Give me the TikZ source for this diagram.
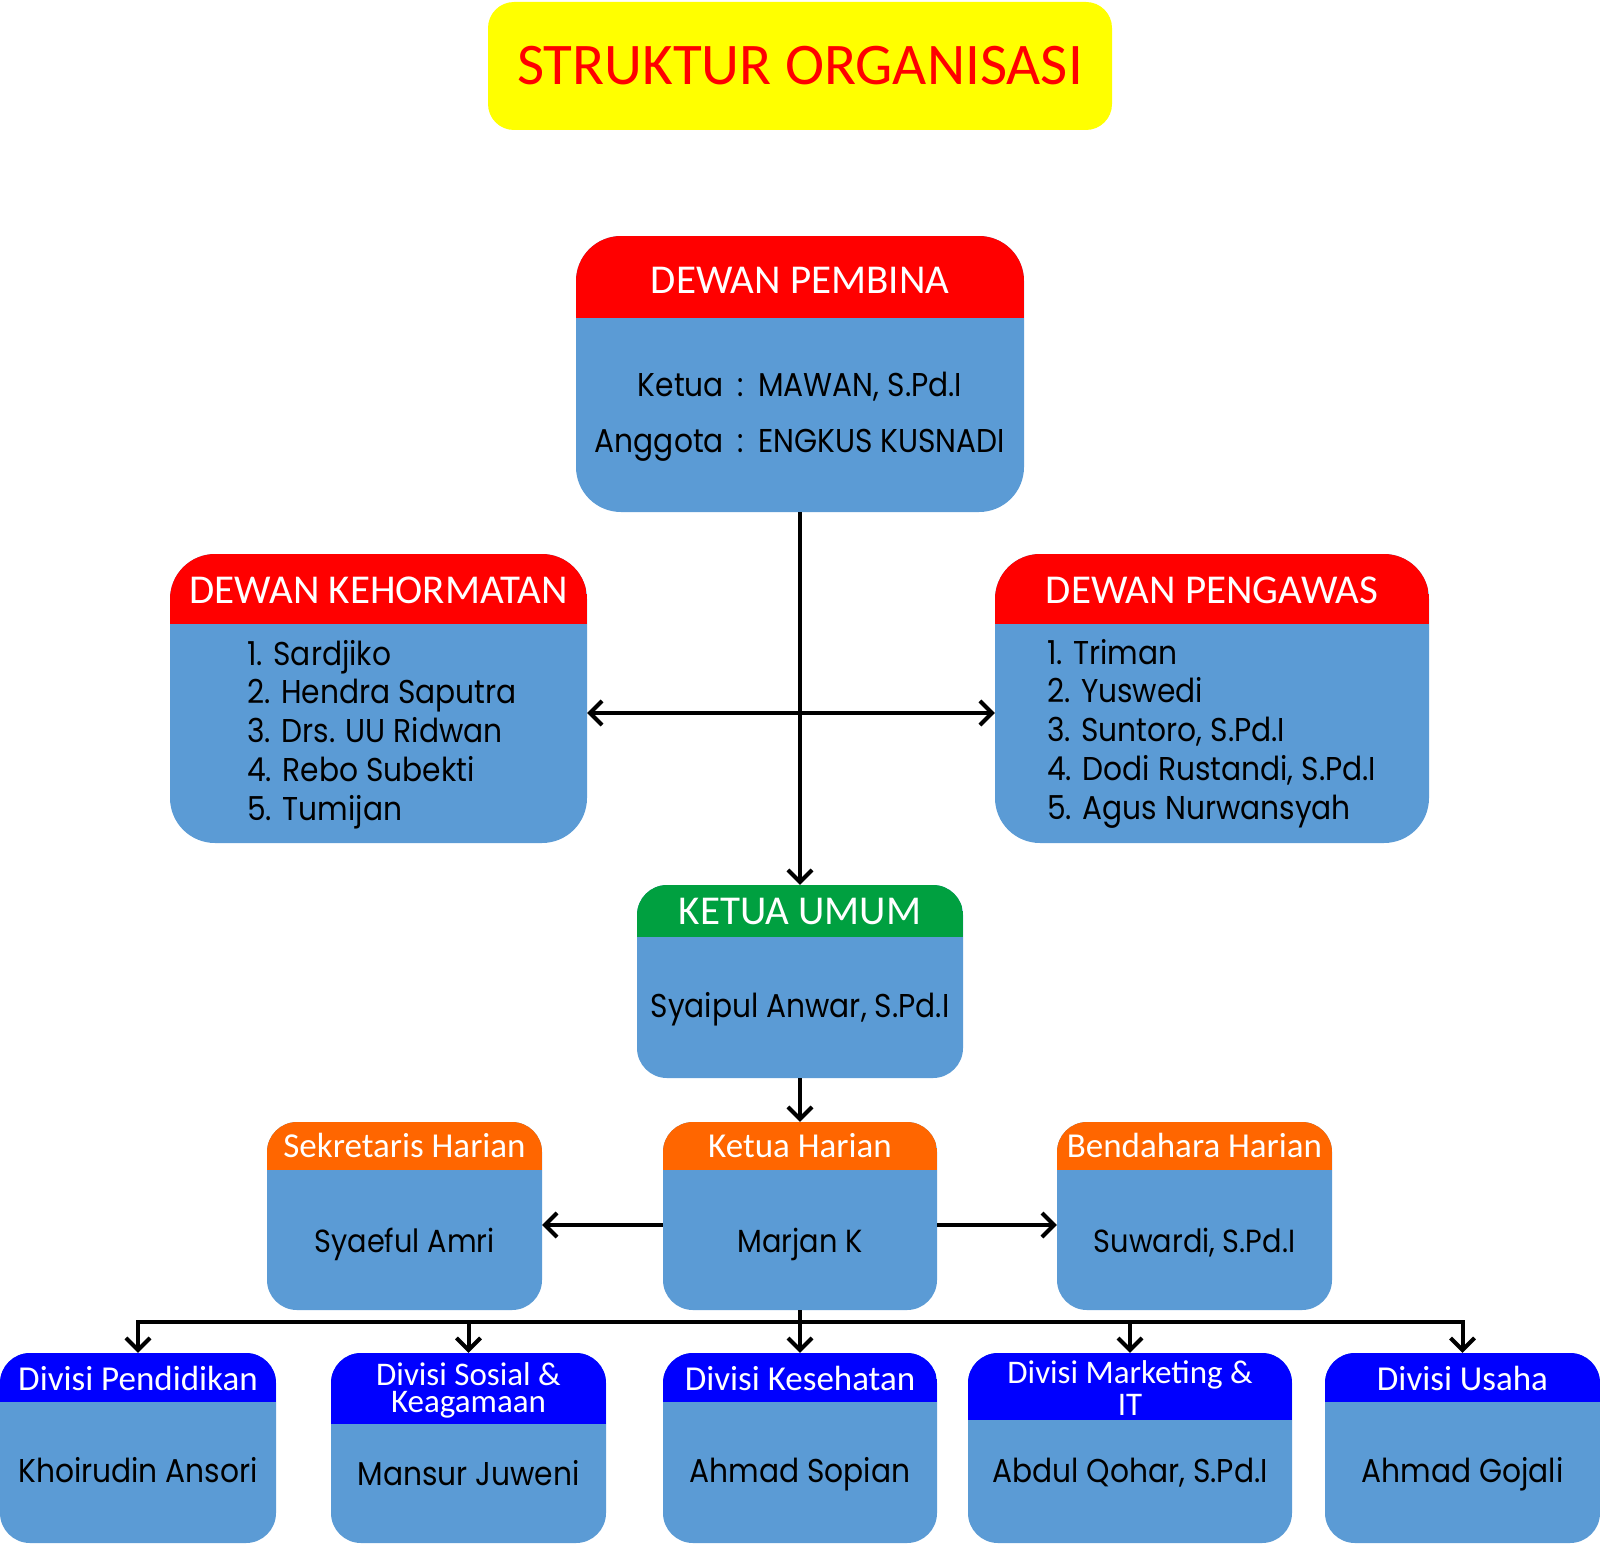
\documentclass[tikz,border=0pt]{standalone}
\usepackage{fontspec}
\setmainfont{Carlito}
\newfontfamily\namefont[FakeStretch=0.9]{Poppins}
\usepackage{xcolor}
\usetikzlibrary{arrows.meta, positioning}

\definecolor{kuning}{HTML}{FFFF00}
\definecolor{merah}{HTML}{FF0000}
\definecolor{isibiru}{HTML}{5B9BD5}
\definecolor{hijau}{HTML}{00A040}
\definecolor{oranye}{HTML}{FF6600}
\definecolor{biru}{HTML}{0000FF}

\begin{document}
\begin{tikzpicture}[
                        x=1pt, y=-1pt,
                        >={Straight Barb[length=12pt, width=24pt]},
                        orgbox/.style={rectangle, fill=isibiru, inner sep=0pt, rounded corners=30pt},
                        headfill/.style 2 args={path picture={\fill[#1, sharp corners] (path picture bounding box.north west) rectangle ([yshift=-#2]path picture bounding box.north east);}},
                        headtext/.style={anchor=base, text=white, inner sep=0pt, font=\fontsize{41}{44}\selectfont},
                        smallhead/.style={anchor=base, text=white, inner sep=0pt, font=\fontsize{35}{38}\selectfont},
                        nametext/.style={anchor=base, text=black, inner sep=0pt, font=\namefont\fontsize{33}{38.75}\selectfont},
                        conn/.style={line width=4pt},
                        ]
        \useasboundingbox (0,0) rectangle (1600,1544);

        %Nodes
        \node[rectangle, fill=kuning, rounded corners=26pt, minimum width=624, minimum height=128, text=merah, font=\fontsize{59}{60}\selectfont] (Judul) at (800,66) {STRUKTUR ORGANISASI};

        \node[orgbox, rounded corners=45pt, minimum width=448, minimum height=276, headfill={merah}{82pt}] (Pembina) at (800,374) {};
        \node[headtext]                         (PembinaJudul)  at (800,293) {DEWAN PEMBINA};
        % base of a multi-line node = baseline of its last line
        \node[nametext, align=center, font=\namefont\fontsize{33}{56}\selectfont] (PembinaIsi) at (800,452) {Ketua\hspace{14pt}:\hspace{14pt}MAWAN, S.Pd.I\\Anggota\hspace{14pt}:\hspace{14pt}ENGKUS KUSNADI};

        \node[orgbox, rounded corners=45pt, minimum width=417, minimum height=289, headfill={merah}{70pt}] (Kehormatan) at (378.5,698.5) {};
        \node[headtext]                         (KehormatanJudul) at (378.5,603) {DEWAN KEHORMATAN};
        \node[nametext, align=left, anchor=base west] (KehormatanIsi) at (247,820) {1. Sardjiko\\2. Hendra Saputra\\3. Drs. UU Ridwan\\4. Rebo Subekti\\5. Tumijan};

        \node[orgbox, rounded corners=45pt, minimum width=434, minimum height=289, headfill={merah}{70pt}] (Pengawas) at (1212,698.5) {};
        \node[headtext]                         (PengawasJudul) at (1212,603) {DEWAN PENGAWAS};
        \node[nametext, align=left, anchor=base west] (PengawasIsi) at (1047,819) {1. Triman\\2. Yuswedi\\3. Suntoro, S.Pd.I\\4. Dodi Rustandi, S.Pd.I\\5. Agus Nurwansyah};

        \node[orgbox, minimum width=326, minimum height=193, headfill={hijau}{52pt}] (KetuaUmum) at (800,981.5) {};
        \node[headtext]                         (KetuaUmumJudul) at (800,924) {KETUA UMUM};
        \node[nametext]                         (KetuaUmumIsi)  at (800,1017) {Syaipul Anwar, S.Pd.I};

        \node[orgbox, minimum width=275, minimum height=188, headfill={oranye}{48pt}] (Sekretaris) at (404.5,1216) {};
        \node[orgbox, minimum width=274, minimum height=188, headfill={oranye}{48pt}] (KetuaHarian) at (800,1216) {};
        \node[orgbox, minimum width=275, minimum height=188, headfill={oranye}{48pt}] (Bendahara) at (1194.5,1216) {};
        \node[smallhead]                        (SekretarisJudul) at (404.5,1157) {Sekretaris Harian};
        \node[smallhead]                        (KetuaHarianJudul) at (800,1157) {Ketua Harian};
        \node[smallhead]                        (BendaharaJudul) at (1194.5,1157) {Bendahara Harian};
        \node[nametext, font=\namefont\fontsize{32}{40}\selectfont] (SekretarisIsi) at (404.5,1252) {Syaeful Amri};
        \node[nametext, font=\namefont\fontsize{32}{40}\selectfont] (KetuaHarianIsi) at (800,1252) {Marjan K};
        \node[nametext, font=\namefont\fontsize{32}{40}\selectfont] (BendaharaIsi) at (1194.5,1252) {Suwardi, S.Pd.I};

        \node[orgbox, minimum width=276, minimum height=190, headfill={biru}{49pt}] (Pendidikan) at (138,1448) {};
        \node[orgbox, minimum width=275, minimum height=190, headfill={biru}{71pt}] (Sosial) at (468.5,1448) {};
        \node[orgbox, minimum width=274, minimum height=190, headfill={biru}{49pt}] (Kesehatan) at (800,1448) {};
        \node[orgbox, minimum width=324, minimum height=190, headfill={biru}{67pt}] (Marketing) at (1130,1448) {};
        \node[orgbox, minimum width=275, minimum height=190, headfill={biru}{49pt}] (Usaha) at (1462.5,1448) {};
        \node[smallhead]                        (PendidikanJudul) at (138,1390) {Divisi Pendidikan};
        \node[smallhead, align=center, font=\fontsize{33}{27}\selectfont] (SosialJudul) at (468.5,1412) {Divisi Sosial \&\\Keagamaan};
        \node[smallhead]                        (KesehatanJudul) at (800,1390) {Divisi Kesehatan};
        \node[smallhead, align=center, font=\fontsize{33}{32}\selectfont] (MarketingJudul) at (1130,1415) {Divisi Marketing \&\\IT};
        \node[smallhead]                        (UsahaJudul)    at (1462.5,1390) {Divisi Usaha};
        \node[nametext]                         (PendidikanIsi) at (138,1482) {Khoirudin Ansori};
        \node[nametext]                         (SosialIsi)     at (468.5,1485) {Mansur Juweni};
        \node[nametext]                         (KesehatanIsi)  at (800,1482) {Ahmad Sopian};
        \node[nametext]                         (MarketingIsi)  at (1130,1482) {Abdul Qohar, S.Pd.I};
        \node[nametext]                         (UsahaIsi)      at (1462.5,1482) {Ahmad Gojali};

        %Lines
        \coordinate (Cabang) at (800,1322);
        \draw[->, conn] (Pembina.south) -- (KetuaUmum.north);
        \draw[<->, conn] ([yshift=-14.5pt]Kehormatan.east) -- ([yshift=-14.5pt]Pengawas.west);
        \draw[->, conn] (KetuaUmum.south) -- (KetuaHarian.north);
        \draw[->, conn] ([yshift=-9pt]KetuaHarian.west) -- ([yshift=-9pt]Sekretaris.east);
        \draw[->, conn] ([yshift=-9pt]KetuaHarian.east) -- ([yshift=-9pt]Bendahara.west);
        \draw[<->, conn] (Pendidikan.north) -- (Pendidikan.north |- Cabang) -- (Usaha.north |- Cabang) -- (Usaha.north);
        \draw[->, conn] (KetuaHarian.south) -- (Kesehatan.north);
        \foreach \divisi in {Sosial, Marketing}
            \draw[->, conn] (\divisi.north |- Cabang) -- (\divisi.north);
    \end{tikzpicture}
\end{document}
